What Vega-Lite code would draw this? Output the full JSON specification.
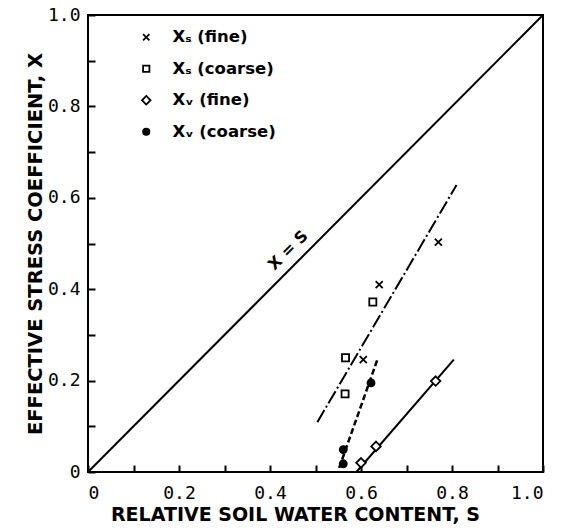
{
  "$schema": "https://vega.github.io/schema/vega-lite/v6.json",
  "width": 455,
  "height": 457,
  "autosize": "none",
  "padding": {"left": 88, "top": 15, "right": 20, "bottom": 58},
  "background": "white",
  "config": {
    "view": {"stroke": "black", "strokeWidth": 2},
    "axis": {
      "grid": false,
      "domain": false,
      "offset": -7,
      "tickColor": "black",
      "tickSize": 7,
      "tickWidth": 2,
      "labelFont": "DejaVu Sans Mono",
      "labelFontSize": 18,
      "labelColor": "black",
      "titleFont": "DejaVu Sans",
      "titleFontSize": 19,
      "titleFontWeight": "bold",
      "titleColor": "black"
    }
  },
  "layer": [
    {
      "data": {"values": [{"s": 0, "x": 0}, {"s": 1, "x": 1}]},
      "mark": {"type": "line", "color": "black", "strokeWidth": 2},
      "encoding": {
        "x": {
          "field": "s", "type": "quantitative",
          "scale": {"domain": [0, 1], "nice": false, "zero": false},
          "axis": {
            "title": "RELATIVE SOIL  WATER CONTENT, S",
            "values": [0, 0.1, 0.2, 0.3, 0.4, 0.5, 0.6, 0.7, 0.8, 0.9, 1.0],
            "labelExpr": "datum.value == 0 ? '0' : (round(datum.value * 10) % 2 == 0 ? format(datum.value, '.1f') : '')",
            "labelPadding": 12,
            "titlePadding": 3,
            "titleX": 207
          }
        },
        "y": {
          "field": "x", "type": "quantitative",
          "scale": {"domain": [0, 1], "nice": false, "zero": false},
          "axis": {
            "title": "EFFECTIVE STRESS COEFFICIENT, X",
            "values": [0, 0.1, 0.2, 0.3, 0.4, 0.5, 0.6, 0.7, 0.8, 0.9, 1.0],
            "labelExpr": "datum.value == 0 ? '0' : (round(datum.value * 10) % 2 == 0 ? format(datum.value, '.1f') : '')",
            "labelPadding": 8,
            "titlePadding": 2,
            "titleFontSize": 19.5
          }
        }
      }
    },
    {
      "data": {"values": [{"s": 0.504, "x": 0.109}, {"s": 0.81, "x": 0.628}]},
      "mark": {"type": "line", "color": "black", "strokeWidth": 2, "strokeDash": [14, 3, 2, 3]},
      "encoding": {"x": {"field": "s", "type": "quantitative"}, "y": {"field": "x", "type": "quantitative"}}
    },
    {
      "data": {"values": [{"s": 0.552, "x": 0.009}, {"s": 0.636, "x": 0.246}]},
      "mark": {"type": "line", "color": "black", "strokeWidth": 2.5, "strokeDash": [6, 3]},
      "encoding": {"x": {"field": "s", "type": "quantitative"}, "y": {"field": "x", "type": "quantitative"}}
    },
    {
      "data": {"values": [{"s": 0.59, "x": 0.0}, {"s": 0.804, "x": 0.246}]},
      "mark": {"type": "line", "color": "black", "strokeWidth": 2},
      "encoding": {"x": {"field": "s", "type": "quantitative"}, "y": {"field": "x", "type": "quantitative"}}
    },
    {
      "data": {"values": [
        {"series": "Xₛ  (fine)", "s": 0.770, "x": 0.503},
        {"series": "Xₛ  (fine)", "s": 0.640, "x": 0.410},
        {"series": "Xₛ  (fine)", "s": 0.605, "x": 0.246},
        {"series": "Xₛ  (coarse)", "s": 0.626, "x": 0.372},
        {"series": "Xₛ  (coarse)", "s": 0.566, "x": 0.250},
        {"series": "Xₛ  (coarse)", "s": 0.565, "x": 0.171},
        {"series": "Xᵥ  (fine)", "s": 0.764, "x": 0.199},
        {"series": "Xᵥ  (fine)", "s": 0.633, "x": 0.056},
        {"series": "Xᵥ  (fine)", "s": 0.600, "x": 0.020},
        {"series": "Xᵥ  (coarse)", "s": 0.622, "x": 0.195},
        {"series": "Xᵥ  (coarse)", "s": 0.561, "x": 0.049},
        {"series": "Xᵥ  (coarse)", "s": 0.561, "x": 0.018}
      ]},
      "mark": {"type": "point", "filled": true, "strokeWidth": 1.8, "size": 50, "opacity": 1},
      "encoding": {
        "x": {"field": "s", "type": "quantitative"},
        "y": {"field": "x", "type": "quantitative"},
        "shape": {
          "field": "series", "type": "nominal",
          "scale": {
            "domain": ["Xₛ  (fine)", "Xₛ  (coarse)", "Xᵥ  (fine)", "Xᵥ  (coarse)"],
            "range": ["M-1,-1L1,1M-1,1L1,-1", "square", "M0,-1.35L1.35,0L0,1.35L-1.35,0Z", "circle"]
          },
          "legend": {
            "title": null,
            "orient": "none",
            "legendX": 50,
            "legendY": 14,
            "labelFont": "DejaVu Sans",
            "labelFontSize": 16.5,
            "labelFontWeight": "bold",
            "labelColor": "black",
            "labelOffset": 18,
            "symbolSize": 40,
            "symbolStrokeWidth": 1.8,
            "rowPadding": 14.5,
            "padding": 0,
            "labelLimit": 300
          }
        },
        "fill": {
          "field": "series", "type": "nominal",
          "scale": {
            "domain": ["Xₛ  (fine)", "Xₛ  (coarse)", "Xᵥ  (fine)", "Xᵥ  (coarse)"],
            "range": ["white", "white", "white", "black"]
          }
        },
        "stroke": {
          "field": "series", "type": "nominal",
          "scale": {
            "domain": ["Xₛ  (fine)", "Xₛ  (coarse)", "Xᵥ  (fine)", "Xᵥ  (coarse)"],
            "range": ["black", "black", "black", "black"]
          }
        }
      }
    },
    {
      "data": {"values": [{"s": 0.44, "x": 0.485, "label": "X = S"}]},
      "mark": {"type": "text", "angle": 315, "font": "DejaVu Sans", "fontWeight": "bold", "fontSize": 16, "color": "black"},
      "encoding": {
        "x": {"field": "s", "type": "quantitative"},
        "y": {"field": "x", "type": "quantitative"},
        "text": {"field": "label"}
      }
    }
  ]
}
